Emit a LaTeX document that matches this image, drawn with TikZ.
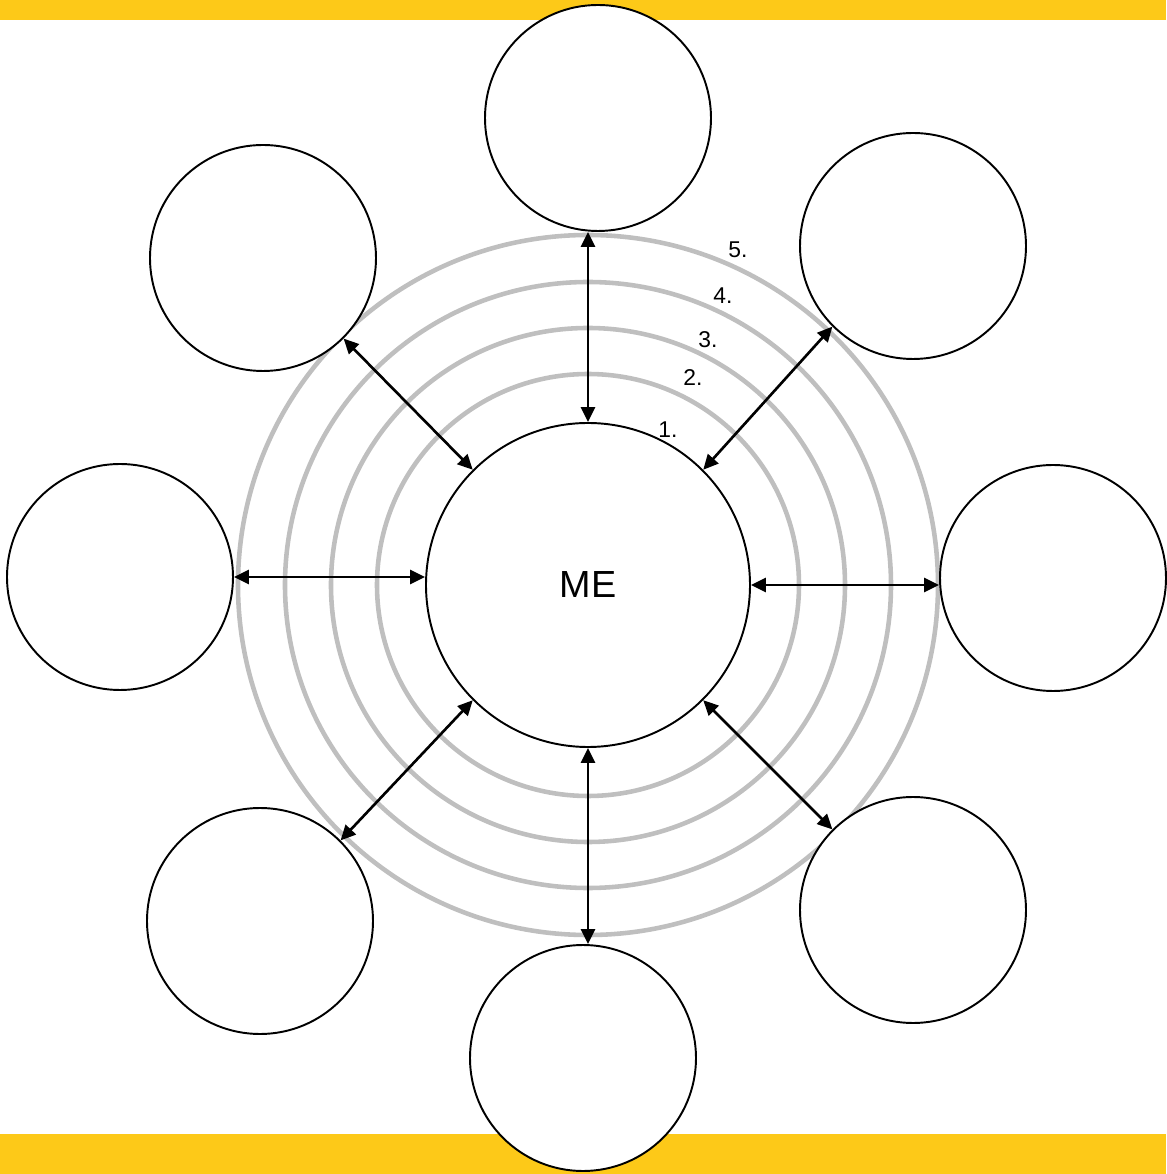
\documentclass[tikz,border=0pt]{standalone}
\usepackage{fontspec}
\setmainfont{Liberation Sans}
\usetikzlibrary{arrows.meta}
\definecolor{bandyellow}{RGB}{253,201,24}
\definecolor{ringgray}{RGB}{191,191,191}

\begin{document}
\begin{tikzpicture}[every node/.style={font=\fontsize{13}{15}\selectfont}, >={Triangle[length=3mm,width=2.8mm]},
	person/.style={circle, draw, line width=1.1pt, fill=white, minimum size=4.52cm, inner sep=0pt},
	link/.style={<->, line width=1.5pt}]
	\useasboundingbox (-11.76,-11.78) rectangle (11.56,11.7);
	\fill[bandyellow] (-11.76,11.3) rectangle (11.56,11.7);
	\fill[bandyellow] (-11.76,-10.98) rectangle (11.56,-11.78);
	\foreach \r in {4.22,5.14,6.06,7.0} {\draw[ringgray, line width=2.6pt] (0,0) circle (\r);}
	\node[person, minimum size=6.48cm, font=\fontsize{21.5}{24}\selectfont] (me) at (0,0) {ME};
	\node[person] (top) at (0.2,9.34) {};
	\node[person] (topleft) at (-6.5,6.54) {};
	\node[person] (topright) at (6.5,6.78) {};
	\node[person] (left) at (-9.36,0.16) {};
	\node[person] (right) at (9.3,0.14) {};
	\node[person] (botleft) at (-6.56,-6.72) {};
	\node[person] (botright) at (6.5,-6.5) {};
	\node[person] (bot) at (-0.1,-9.46) {};
	\draw[link] (me.north) -- (me.north |- top.south);
	\draw[link] (me.south) -- (me.south |- bot.north);
	\draw[link] (left.east) -- (left.east -| me.west);
	\draw[link] (me.east) -- (me.east -| right.west);
	\draw[link] (me.135) -- (topleft.-45);
	\draw[link] (me.45) -- (topright.-135);
	\draw[link] (me.-135) -- (botleft.45);
	\draw[link] (me.-45) -- (botright.135);
	\node (ring1) at (1.6,3.1) {1.};
	\node (ring2) at (2.1,4.14) {2.};
	\node (ring3) at (2.4,4.9) {3.};
	\node (ring4) at (2.7,5.78) {4.};
	\node (ring5) at (3.0,6.7) {5.};
\end{tikzpicture}
\end{document}
